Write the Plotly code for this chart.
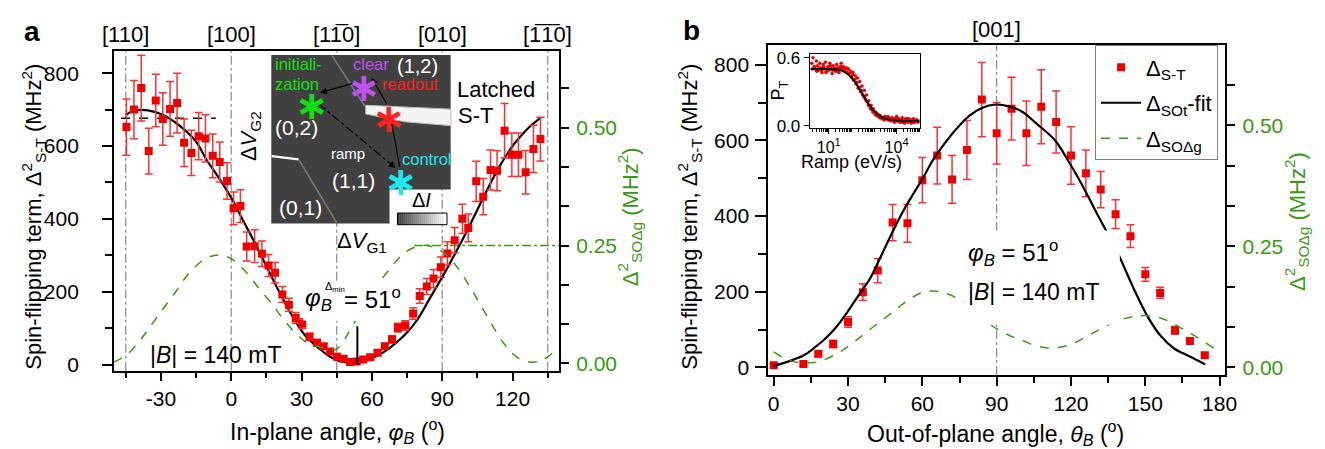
import plotly.graph_objects as go

W, H = 1325, 449
def dx(px): return px / W
def dy(py): return 1 - py / H

RED = "#f00000"
RED_ERR = "#ff3030"
GREEN = "#3a9a12"
GRAY = "#8c8c8c"
FONT = "Liberation Sans, Arial, sans-serif"
TICK = 21
TITLE = 23

# ---------------- panel a data ----------------
a_angle = [-44.7,-41.5,-38.4,-35.2,-32.2,-29.2,-26.1,-23.1,-20.1,-17,-13.9,-11,-7.9,-4.9,-1.8,1,3.9,6.6,10,13.1,
           15.9,18.7,21.8,24.6,27.5,30.3,33.4,36.6,39.4,42.2,45.1,47.9,50.7,53.5,56.3,59.3,62.4,65.5,68.6,71.1,
           74.2,77.6,80.4,83.4,86.3,89.4,92.2,95.3,98.6,101.1,104.5,107.5,110.6,113.4,116.6,119.7,122.5,125.6,128.9,131.9]
a_delta = [652,700,759,586,725,674,702,718,609,581,627,621,573,556,504,429,435,324,325,304,
           272,252,192,164,128,112,76,60,50,36,21,16,7,8,14,20,32,50,69,101,
           107,140,188,214,236,267,305,341,400,375,503,461,534,532,642,576,576,528,592,619]
a_err = [77,80,90,63,72,72,75,82,65,62,65,65,60,55,50,45,45,40,45,35,
         30,28,22,18,15,14,10,9,8,7,6,6,5,5,5,6,7,8,10,12,
         13,16,20,22,25,28,32,35,40,38,55,50,55,55,75,60,60,60,65,60]

a_fit_x = [-45,-42,-38.7,-35,-30,-24.6,-20,-15,-10.6,-5,0.7,5,9.2,15,20,23.2,28,32,37.3,42,46,51.4,56,60,65.5,
           70,75,79.6,85,90,93.7,100,105,110.6,115,120,124.6,128,131.7]
a_fit_y = [685,696,699,697,688,668,645,612,563,510,450,396,345,270,205,166,112,76,45,22,10,5,8,17,36,
           58,88,125,185,240,283,360,425,498,550,600,635,657,676]

a_g_x = [-50,-44.4,-38,-31.7,-24,-17.6,-11,-5.6,0,6.3,12,17.6,22,27.5,32,37.3,41,44.4,47,50,54.2,60,67.6,74,81,86,
         92.2,97,102.1,108,116.2,122,127.5,133,138.7]
a_g_y = [0.003,0.019,0.055,0.098,0.15,0.194,0.222,0.23,0.222,0.194,0.158,0.125,0.095,0.064,0.045,0.035,0.031,0.029,
         0.04,0.065,0.101,0.15,0.2,0.235,0.25,0.247,0.228,0.2,0.16,0.11,0.043,0.013,0.003,0.008,0.029]

a_dirs = [-45, 0, 45, 90, 135]
a_dir_labels = ["[110]", "[100]", "[11\u03050]", "[010]", "[1\u03051\u03050]"]
a_green_ref = 0.25
a_green_ref_span = [78, 140]
a_black_ref = 676
a_black_ref_span = [-47, -6.6]
a_min_angle = 53.8
a_min_bar = 105

# ---------------- panel b data ----------------
b_angle = [0,12,18,24,30,36,42,48,54,60,66,72,78,84,90,96,102,108,114,120,126,132,138,144,150,156,162,168,174]
b_delta = [6,9,36,62,120,199,256,383,381,495,560,497,575,708,619,684,619,689,649,560,513,470,405,347,246,197,98,70,32]
b_err = [5,5,8,10,14,22,32,48,50,60,75,63,78,98,81,83,85,98,82,76,62,48,38,30,18,15,10,6,5]

b_fit_x = [0,6,12.2,16,20.3,25,29.6,34,38.9,43,47,52,56,60.2,64,68.2,73,78.9,84,89.6,95,100.3,106,113.6,119,123,
           127,131,134.3,139.2,145,150.9,156,161.6,165,168.2,174.2]
b_fit_y = [4,16,32,50,73,105,145,188,235,290,345,410,455,500,545,585,625,665,686,695,690,676,645,600,545,500,
           451,400,360,298,213,135,85,50,38,28,8]

b_g_x = [0,4,8,12,16,20,27,33,40,47,54,60,64.2,70,76,82,87,91,96,100,105,110.9,116,121,126,131,136,141,145,149.6,
         155,160,165,170,177.6]
b_g_y = [0.032,0.02,0.012,0.009,0.01,0.015,0.033,0.055,0.083,0.11,0.138,0.155,0.158,0.152,0.137,0.113,0.09,0.077,
         0.064,0.057,0.046,0.04,0.042,0.05,0.063,0.077,0.09,0.1,0.105,0.107,0.104,0.094,0.08,0.065,0.04]
b_dirs = [90]
b_dir_labels = ["[001]"]

# inset (panel b): log10 ramp rate and triplet probability
ramp_log_1 = [0.25,0.3,0.35,0.4,0.45,0.5,0.55,0.6,0.65,0.7,0.75,0.8,0.85,0.9,0.95,1.0,1.05,1.1,1.15,1.2,1.25,1.3,1.35,
              1.4,1.45,1.5,1.55,1.6,1.65,1.7,1.75,1.8,1.85,1.9,1.95,2.0,2.05,2.1,2.15,2.2,2.25,2.3,2.35,2.4,2.45,2.5,
              2.55,2.6,2.65,2.7,2.75,2.8,2.85,2.9,2.95,3.0,3.05,3.1,3.15,3.2,3.25,3.3,3.35,3.4,3.45,3.5,3.55,3.6,3.65,
              3.7,3.75,3.8,3.85,3.9,3.95,4.0,4.05,4.1,4.15,4.2,4.25,4.3,4.35,4.4,4.45,4.5,4.55,4.6,4.65,4.7,4.75,4.8,
              4.85,4.9,4.95]
pt_1 = [0.55,0.60,0.52,0.50,0.57,0.53,0.49,0.55,0.51,0.47,0.54,0.50,0.56,0.48,0.52,0.49,0.55,0.51,0.46,0.53,0.50,
        0.48,0.54,0.51,0.47,0.52,0.55,0.50,0.52,0.49,0.51,0.47,0.50,0.46,0.47,0.43,0.45,0.40,0.41,0.37,0.38,0.33,
        0.34,0.30,0.31,0.27,0.26,0.24,0.22,0.21,0.18,0.17,0.15,0.14,0.12,0.12,0.10,0.09,0.10,0.08,0.07,0.08,0.06,
        0.07,0.05,0.07,0.06,0.08,0.05,0.06,0.04,0.07,0.05,0.03,0.06,0.08,0.04,0.06,0.03,0.05,0.07,0.04,0.02,0.06,
        0.05,0.03,0.06,0.04,0.02,0.05,0.06,0.03,0.04,0.05,0.03]
ramp_log_2 = [0.27,0.37,0.47,0.57,0.67,0.77,0.87,0.97,1.07,1.17,1.27,1.37,1.47,1.57,1.67,1.77,1.87,1.97,2.07,2.17,
              2.27,2.37,2.47,2.57,2.67,2.77,2.87,2.97,3.07,3.17,3.27,3.37,3.47,3.57,3.67,3.77,3.87,3.97,4.07,4.17,
              4.27,4.37,4.47,4.57,4.67,4.77,4.87,4.97]
pt_2 = [0.50,0.52,0.48,0.51,0.49,0.52,0.47,0.50,0.53,0.49,0.51,0.48,0.50,0.52,0.49,0.51,0.50,0.48,0.47,0.44,
        0.42,0.39,0.35,0.31,0.27,0.22,0.18,0.15,0.12,0.10,0.09,0.07,0.08,0.06,0.07,0.05,0.06,0.04,0.06,0.05,
        0.03,0.05,0.06,0.04,0.05,0.03,0.05,0.04]
ramp_fit_log = [0.2,1.0,1.5,1.8,2.1,2.4,2.7,3.0,3.3,3.6,4.0,4.5,5.0]
pt_fit = [0.50,0.50,0.49,0.46,0.40,0.31,0.21,0.13,0.08,0.055,0.045,0.04,0.04]

fig = go.Figure()

# ---- panel a traces ----
fig.add_trace(go.Scatter(x=a_g_x, y=a_g_y, xaxis="x", yaxis="y2", mode="lines",
                         line=dict(color=GREEN, width=1.5, dash="dash", shape="spline"), showlegend=False))
fig.add_trace(go.Scatter(x=a_fit_x, y=a_fit_y, xaxis="x", yaxis="y", mode="lines",
                         line=dict(color="black", width=2.2, shape="spline"), showlegend=False))
fig.add_trace(go.Scatter(x=a_angle, y=a_delta, xaxis="x", yaxis="y", mode="markers",
                         marker=dict(symbol="square", size=8, color=RED),
                         error_y=dict(type="data", array=a_err, color=RED_ERR, thickness=1.5, width=4),
                         showlegend=False))

# ---- panel b traces ----
fig.add_trace(go.Scatter(x=b_angle, y=b_delta, xaxis="x3", yaxis="y3", mode="markers",
                         marker=dict(symbol="square", size=8, color=RED),
                         error_y=dict(type="data", array=b_err, color=RED_ERR, thickness=1.5, width=4),
                         name="\u0394<sub>S-T</sub>", legendgroup="g1"))
fig.add_trace(go.Scatter(x=b_fit_x, y=b_fit_y, xaxis="x3", yaxis="y3", mode="lines",
                         line=dict(color="black", width=2.2, shape="spline"), name="\u0394<sub>SOt</sub>-fit",
                         legendgroup="g2"))
fig.add_trace(go.Scatter(x=b_g_x, y=b_g_y, xaxis="x3", yaxis="y4", mode="lines",
                         line=dict(color=GREEN, width=1.5, dash="dash", shape="spline"),
                         name="\u0394<sub>SO\u0394g</sub>", legendgroup="g3"))

# ---- inset b ----
fig.add_trace(go.Scatter(x=[10 ** v for v in ramp_log_1], y=pt_1, xaxis="x5", yaxis="y5", mode="markers",
                         marker=dict(color=RED, size=3.5), showlegend=False))
fig.add_trace(go.Scatter(x=[10 ** v for v in ramp_log_2], y=pt_2, xaxis="x5", yaxis="y5", mode="markers",
                         marker=dict(color=RED, size=3.5), showlegend=False))
fig.add_trace(go.Scatter(x=[10 ** v for v in ramp_fit_log], y=pt_fit, xaxis="x5", yaxis="y5", mode="lines",
                         line=dict(color="black", width=2, shape="spline"), showlegend=False))

# invisible pixel overlay axis for decorations
fig.add_trace(go.Scatter(x=[0], y=[0], xaxis="x6", yaxis="y6", mode="markers",
                         marker=dict(opacity=0), showlegend=False, hoverinfo="skip"))

axis_common = dict(showgrid=False, zeroline=False, showline=True, linecolor="black", linewidth=2,
                   ticks="outside", tickcolor="black", tickwidth=2, tickfont=dict(size=TICK, color="black"))

fig.update_layout(
    width=W, height=H, margin=dict(l=0, r=0, t=0, b=0), autosize=False,
    paper_bgcolor="white", plot_bgcolor="rgba(0,0,0,0)",
    font=dict(family=FONT, size=TICK, color="black"),
    xaxis=dict(domain=[dx(107), dx(556)], anchor="y", range=[-50, 139.8], mirror=True,
               tickvals=[-30, 0, 30, 60, 90, 120], ticktext=["-30", "0", "30", "60", "90", "120"],
               ticklen=8, ticklabelstandoff=0,
               minor=dict(dtick=15, tick0=0, ticks="outside", ticklen=5, tickwidth=2, tickcolor="black"),
               **axis_common),
    yaxis=dict(domain=[dy(368.3), dy(39)], anchor="x", range=[-16.8, 861.3],
               tickvals=[0, 200, 400, 600, 800], ticklen=10, ticklabelstandoff=19,
               minor=dict(dtick=100, ticks="outside", ticklen=7, tickwidth=2, tickcolor="black"),
               **axis_common),
    yaxis2=dict(overlaying="y", side="right", anchor="x", range=[-0.0152, 0.6626],
                tickvals=[0, 0.25, 0.5], ticktext=["0.00", "0.25", "0.50"], ticklen=8, ticklabelstandoff=3,
                minor=dict(dtick=0.25 / 3, tick0=0, ticks="outside", ticklen=8, tickwidth=2, tickcolor="black"),
                **{**axis_common, "tickfont": dict(size=TICK, color=GREEN)}),
    xaxis3=dict(domain=[dx(767.3), dx(1228.3)], anchor="y3", range=[-2.16, 182.24], mirror=True,
                tickvals=[0, 30, 60, 90, 120, 150, 180], ticklen=9, ticklabelstandoff=0,
                minor=dict(dtick=15, tick0=0, ticks="outside", ticklen=6, tickwidth=2, tickcolor="black"),
                **axis_common),
    yaxis3=dict(domain=[dy(372.7), dy(33.3)], anchor="x3", range=[-19.8, 851.4],
                tickvals=[0, 200, 400, 600, 800], ticklen=11, ticklabelstandoff=2,
                minor=dict(dtick=100, ticks="outside", ticklen=8, tickwidth=2, tickcolor="black"),
                **axis_common),
    yaxis4=dict(overlaying="y3", side="right", anchor="x3", range=[-0.0154, 0.665],
                tickvals=[0, 0.25, 0.5], ticktext=["0.00", "0.25", "0.50"], ticklen=8, ticklabelstandoff=3,
                minor=dict(dtick=0.25 / 3, tick0=0, ticks="outside", ticklen=8, tickwidth=2, tickcolor="black"),
                **{**axis_common, "tickfont": dict(size=TICK, color=GREEN)}),
    xaxis5=dict(domain=[dx(809), dx(920)], anchor="y5", type="log", range=[0.154, 5.02], mirror=True,
                showgrid=False, zeroline=False, showline=True, linecolor="black", linewidth=1,
                ticks="outside", ticklen=5, tickwidth=1, tickcolor="black",
                tickvals=[10, 10000], ticktext=["10<sup>1</sup>", "10<sup>4</sup>"],
                tickfont=dict(size=16), ticklabelstandoff=0,
                minor=dict(tickvals=[k * 10 ** d for d in range(0, 6) for k in range(1, 10)],
                           ticks="outside", ticklen=3, tickwidth=1, tickcolor="black")),
    yaxis5=dict(domain=[dy(118.3), dy(42.3)], anchor="x5", range=[-0.02, 0.632], mirror=True,
                showgrid=False, zeroline=False, showline=True, linecolor="black", linewidth=1,
                ticks="outside", ticklen=5, tickwidth=1, tickcolor="black",
                tickvals=[0, 0.6], ticktext=["0.0", "0.6"], tickfont=dict(size=17), ticklabelstandoff=0),
    xaxis6=dict(domain=[0, 1], anchor="y6", range=[0, W], visible=False, fixedrange=True),
    yaxis6=dict(domain=[0, 1], anchor="x6", range=[H, 0], visible=False, fixedrange=True),
    legend=dict(x=dx(1097), y=dy(33.3), xanchor="left", yanchor="top", bgcolor="white",
                bordercolor="#7f7f7f", borderwidth=1, font=dict(size=22), tracegroupgap=4,
                itemwidth=40),
)

shapes = []
for d in a_dirs:
    shapes.append(dict(type="line", xref="x", yref="y domain", x0=d, x1=d, y0=0, y1=1,
                       line=dict(color=GRAY, width=1.2, dash="dashdot"), layer="below"))
for d in b_dirs:
    shapes.append(dict(type="line", xref="x3", yref="y3 domain", x0=d, x1=d, y0=0, y1=1,
                       line=dict(color=GRAY, width=1.2, dash="dashdot"), layer="below"))
shapes.append(dict(type="line", xref="x", yref="y2", x0=a_green_ref_span[0], x1=a_green_ref_span[1],
                   y0=a_green_ref, y1=a_green_ref, line=dict(color=GREEN, width=1.5, dash="dashdot"), layer="below"))
shapes.append(dict(type="line", xref="x", yref="y", x0=a_black_ref_span[0], x1=a_black_ref_span[1],
                   y0=a_black_ref, y1=a_black_ref, line=dict(color="black", width=1.5, dash="dash"), layer="below"))
shapes.append(dict(type="line", xref="x", yref="y", x0=a_min_angle, x1=a_min_angle, y0=0, y1=a_min_bar,
                   line=dict(color="black", width=2), layer="above"))

P = dict(xref="x6", yref="y6", layer="above")
shapes.append(dict(type="rect", x0=298, x1=388, y0=278, y1=317, fillcolor="white", line=dict(width=0), **P))
shapes.append(dict(type="rect", x0=964, x1=1122, y0=224, y1=321, fillcolor="white", line=dict(width=0), **P))
# inset image of panel a
shapes.append(dict(type="path", path="M 265.7 43.3 L 446.7 43.3 L 446.7 181.7 L 385 181.7 L 385 216.7 L 265.7 216.7 Z",
                   fillcolor="#404040", line=dict(width=0), **P))
shapes.append(dict(type="path", path="M 361 95 L 447 99 L 447 116 L 400 112 L 361 104 Z",
                   fillcolor="#f4f4f4", line=dict(color="#bdbdbd", width=1), **P))
shapes.append(dict(type="line", x0=326.7, y0=43.3, x1=360, y1=96, line=dict(color="#7a7a7a", width=1.5), **P))
shapes.append(dict(type="line", x0=266, y0=147.3, x1=293.3, y1=150.7, line=dict(color="white", width=2.2), **P))
shapes.append(dict(type="line", x0=293.3, y0=150.7, x1=331.7, y1=216, line=dict(color="#7a7a7a", width=1.5), **P))
shapes.append(dict(type="line", x0=313.3, y0=93.3, x1=388, y1=157, line=dict(color="black", width=1.2, dash="dashdot"), **P))
n_steps = 25
for i in range(n_steps):
    g = int(60 + (255 - 60) * i / (n_steps - 1))
    x0 = 393 + 50 * i / n_steps
    shapes.append(dict(type="rect", x0=x0, x1=x0 + 50 / n_steps + 0.3, y0=206, y1=218,
                       fillcolor=f"rgb({g},{g},{g})", line=dict(width=0), **P))
shapes.append(dict(type="rect", x0=393, x1=443, y0=206, y1=218, line=dict(color="black", width=1), **P))

fig.update_layout(shapes=shapes)

ann = []
def T(x, y, text, size=TITLE, color="black", xanchor="center", angle=0, family=FONT, bold=False):
    ann.append(dict(xref="x6", yref="y6", x=x, y=y, text=(f"<b>{text}</b>" if bold else text), showarrow=False,
                    xanchor=xanchor, yanchor="middle", textangle=angle,
                    font=dict(size=size, color=color, family=family)))

T(24, 19, "a", size=28, bold=True)
T(690, 18, "b", size=28, bold=True)
for d, lab in zip(a_dirs, a_dir_labels):
    ann.append(dict(xref="x", yref="y6", x=d, y=22, text=lab, showarrow=False, yanchor="middle",
                    font=dict(size=22, color="black", family=FONT)))
for d, lab in zip(b_dirs, b_dir_labels):
    ann.append(dict(xref="x3", yref="y6", x=d, y=17, text=lab, showarrow=False, yanchor="middle",
                    font=dict(size=22, color="black", family=FONT)))
ytitle = "Spin-flipping term, \u0394<sup>2</sup><sub>S-T</sub> (MHz<sup>2</sup>)"
T(26, 210, ytitle, size=22, angle=-90)
T(688, 210, ytitle, size=22, angle=-90)
gtitle = "\u0394<sup>2</sup><sub>SO\u0394g</sub> (MHz<sup>2</sup>)"
T(628, 210, gtitle, size=22, color=GREEN, angle=-90)
T(1301, 215, gtitle, size=22, color=GREEN, angle=-90)
T(333, 430, "In-plane angle, <i>\u03c6</i><sub><i>B</i></sub> (<sup>o</sup>)", size=23)
T(997, 433, "Out-of-plane angle, <i>\u03b8</i><sub><i>B</i></sub> (<sup>o</sup>)", size=23)
# panel a text
T(298, 295, "<i>\u03c6</i><sub><i>B</i></sub>", size=24, xanchor="left")
T(318, 282, "\u0394<sub>min</sub>", size=11, xanchor="left")
T(337, 293, "= 51<sup>o</sup>", size=24, xanchor="left")
T(141, 352, "|<i>B</i>| = 140 mT", size=23, xanchor="left")
T(451, 79, "Latched", size=22, xanchor="left")
T(452, 106, "S-T", size=22, xanchor="left")
T(245, 127, "\u0394<i>V</i><sub>G2</sub>", size=22, angle=-90)
T(357, 236, "\u0394<i>V</i><sub>G1</sub>", size=22)
# panel b text
T(967, 247, "<i>\u03c6</i><sub><i>B</i></sub> = 51<sup>o</sup>", size=24, xanchor="left")
T(967, 287, "|<i>B</i>| = 140 mT", size=23, xanchor="left")
# inset b axis titles
T(779, 80, "P<sub>T</sub>", size=18, angle=-90)
T(851, 153, "Ramp (eV/s)", size=18)
# inset a labels
T(267, 53, "initiali-", size=16.5, color="#10e010", xanchor="left")
T(267, 73, "zation", size=16.5, color="#10e010", xanchor="left")
T(346, 53, "clear", size=16.5, color="#c050f0", xanchor="left")
T(391, 55, "(1,2)", size=20, color="white", xanchor="left")
T(375, 73, "readout", size=16.5, color="#ff2020", xanchor="left")
T(267, 118, "(0,2)", size=21, color="white", xanchor="left")
T(324, 145, "ramp", size=15, color="white", xanchor="left")
T(325, 172, "(1,1)", size=21, color="white", xanchor="left")
T(396, 150, "control", size=16.5, color="#20e8f0", xanchor="left")
T(271, 200, "(0,1)", size=21, color="white", xanchor="left")
T(417, 193, "\u0394<i>I</i>", size=20)

def arrow(x, y, ax, ay, width=1.2):
    ann.append(dict(xref="x6", yref="y6", axref="x6", ayref="y6", x=x, y=y, ax=ax, ay=ay, text="",
                    showarrow=True, arrowhead=2, arrowsize=1.1, arrowwidth=width, arrowcolor="black"))
arrow(315, 82, 355, 70.5)
arrow(367, 67, 383, 95)
arrow(386.5, 109, 395.5, 160)
arrow(391, 159.5, 384, 153.5)

for (x, y, c) in [(306.7, 88.3, "#10e010"), (359.3, 70.7, "#c050f0"), (384.3, 101.7, "#ff2020"),
                  (396.7, 166.7, "#20e8f0")]:
    T(x, y + 6, "\u2217", size=40, color=c, family="DejaVu Sans", bold=True)

fig.update_layout(annotations=ann)
fig.write_html("out.html")
